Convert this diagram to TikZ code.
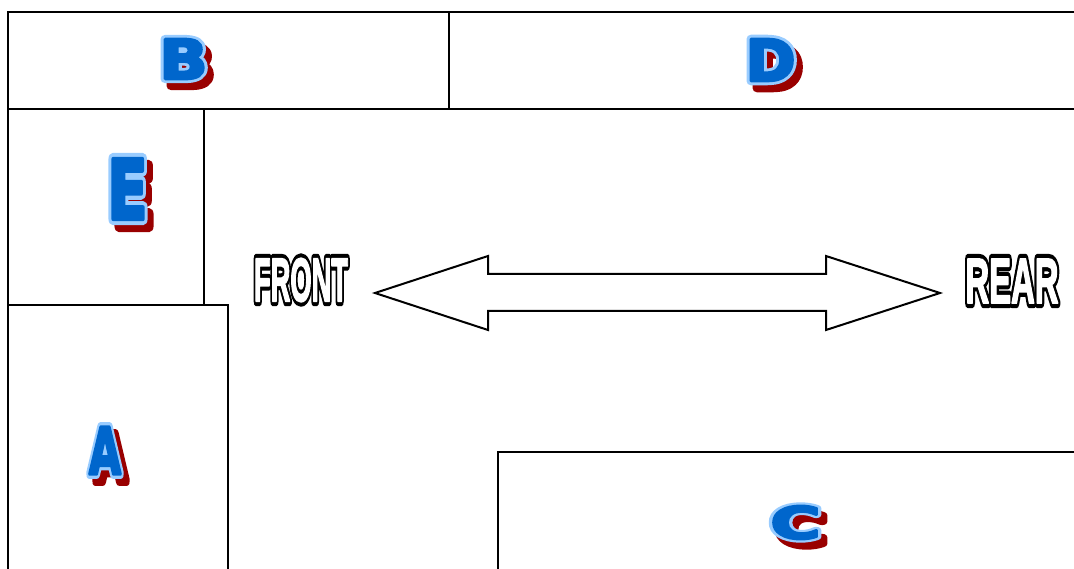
\documentclass[tikz,border=0pt]{standalone}
\usepackage{graphicx}
\usepackage{fontspec}
\setmainfont{Liberation Sans}
\newfontfamily\letterbody{DejaVu Sans Bold}[FakeBold=5]
\newfontfamily\letterouter{DejaVu Sans Bold}[FakeBold=15]
\newfontfamily\labelbody{Liberation Sans Bold}[FakeBold=3]
\newfontfamily\labelouter{Liberation Sans Bold}[FakeBold=16]
\definecolor{letterblue}{HTML}{0066CC}
\definecolor{letterlight}{HTML}{99CCFF}
\definecolor{lettershadow}{HTML}{990000}
\tikzset{
  wall/.style={line width=2.2pt,black},
  arrowshape/.style={line width=2pt,black,fill=white,line join=miter},
  layer/.style={inner sep=0pt,line join=round,miter limit=1}
}
% #1 name, #2 coordinate, #3 width, #4 height, #5 text, #6 colour, #7 font
\newcommand\layertext[7]{%
  \node[layer] (#1) at (#2) {\pgfsetroundjoin\resizebox{#3}{#4}{\color{#6}#7#5}};
}
% #1 name, #2 coordinate, #3 width, #4 height, #5 letter
\newcommand\fancyletter[5]{%
  \coordinate (#2s) at ([shift={(6pt,-7pt)}]#2);
  \layertext{#1s}{#2s}{#3}{#4}{#5}{lettershadow}{\letterouter}
  \layertext{#1o}{#2}{#3}{#4}{#5}{letterlight}{\letterouter}
  \layertext{#1}{#2}{#3}{#4}{#5}{letterblue}{\letterbody}
}
\begin{document}
\begin{tikzpicture}[x=1pt,y=-1pt]
\useasboundingbox (0,0) rectangle (1074,569);
\clip (0,0) rectangle (1074,569);
% walls
\draw[wall] (1080,12) -- (8,12) -- (8,575);
\draw[wall] (8,109) -- (1080,109);
\draw[wall] (449,12) -- (449,109);
\draw[wall] (204,109) -- (204,305);
\draw[wall] (8,305) -- (228,305) -- (228,575);
\draw[wall] (1080,452) -- (498,452) -- (498,575);
% double arrow
\draw[arrowshape] (375,293) -- (488,256) -- (488,274) -- (826,274) -- (826,256)
  -- (940,293) -- (826,330) -- (826,311) -- (488,311) -- (488,330) -- cycle;
% letters
\coordinate (pB) at (183.5,59);
\coordinate (pD) at (770.5,60);
\coordinate (pE) at (127.5,189);
\coordinate (pA) at (105,450.5);
\coordinate (pC) at (795.5,522.5);
\fancyletter{B}{pB}{48pt}{40pt}{B}
\fancyletter{D}{pD}{50pt}{42pt}{D}
\fancyletter{E}{pE}{40pt}{60pt}{E}
\fancyletter{A}{pA}{32pt}{47pt}{A}
\fancyletter{C}{pC}{50pt}{33pt}{C}
% labels
\coordinate (pFront) at (301,280);
\coordinate (pRear) at (1012,281);
\layertext{frontbg}{pFront}{94pt}{43pt}{FRONT}{black}{\labelouter}
\layertext{front}{pFront}{94pt}{43pt}{FRONT}{white}{\labelbody}
\layertext{rearbg}{pRear}{93pt}{44pt}{REAR}{black}{\labelouter}
\layertext{rear}{pRear}{93pt}{44pt}{REAR}{white}{\labelbody}
\end{tikzpicture}
\end{document}
